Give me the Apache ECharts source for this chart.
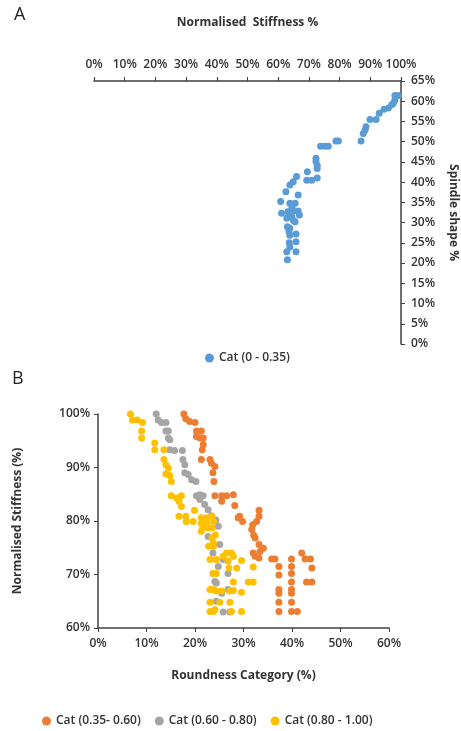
<!DOCTYPE html>
<html>
<head>
<meta charset="utf-8">
<title>Stiffness vs shape</title>
<script src="https://cdn.jsdelivr.net/npm/echarts@6/dist/echarts.min.js"></script>
<style>
  html, body { margin: 0; padding: 0; background: #fff; }
  #main { width: 461px; height: 731px; }
</style>
</head>
<body>
<div id="main"></div>
<script>
// panel A: normalised stiffness (%) vs spindle shape (%)
var stiffA = [99.1, 98.0, 97.5, 98.0, 97.0, 95.9, 94.5, 92.9, 91.9, 89.9, 88.6, 88.3, 87.7, 87.0,
  79.6, 78.8, 76.3, 75.2, 73.8, 72.3, 72.3, 72.7, 72.7, 69.5, 69.3, 70.9, 72.7, 66.0, 64.9, 63.8,
  62.5, 66.5, 60.8, 63.8, 65.5, 61.1, 63.2, 64.9, 66.5, 66.9, 64.4, 62.8, 65.5, 63.0, 63.8, 63.8,
  65.8, 63.6, 65.8, 62.8, 65.8, 63.0, 63.8, 64.5, 65.0, 63.5];
var spindleA = [61.4, 61.4, 59.5, 60.3, 59.1, 58.3, 58.0, 57.0, 55.5, 55.5, 53.7, 52.9, 52.0, 50.2,
  50.2, 50.2, 48.9, 48.9, 48.9, 45.9, 45.1, 43.4, 44.2, 42.6, 40.5, 40.5, 41.0, 41.4, 40.1, 39.3,
  37.6, 36.8, 35.2, 34.8, 34.8, 32.3, 32.7, 32.9, 32.9, 31.9, 31.5, 31.1, 30.2, 29.0, 28.6, 26.9,
  27.2, 25.0, 25.3, 22.8, 22.8, 20.8, 24.0, 33.8, 30.5, 27.8];

// panel B: roundness category (%) vs normalised stiffness (%)
var roundOrange = [17.7, 18.1, 18.9, 20.0, 20.3, 21.3, 20.3, 21.0, 21.7, 21.7, 21.5, 21.3, 23.1, 23.4,
  24.1, 23.7, 23.9, 24.1, 25.5, 26.5, 27.9, 25.5, 28.2, 29.2, 29.8, 28.9, 33.2, 33.2, 32.7, 31.9,
  31.7, 32.1, 32.4, 33.2, 34.1, 33.4, 32.0, 32.4, 33.2, 35.8, 36.5, 37.3, 37.3, 37.3, 37.3, 37.3,
  37.3, 39.9, 39.9, 39.9, 39.9, 39.9, 39.9, 39.9, 39.9, 41.1, 42.0, 42.7, 43.8, 44.1, 43.0, 44.1];
var stiffOrange = [100, 99.1, 98.6, 98.4, 96.8, 96.8, 95.8, 95.5, 95.5, 94.3, 93.3, 91.5, 91.5, 90.8,
  90.2, 89.0, 87.4, 84.7, 84.7, 84.7, 84.9, 83.7, 82.9, 80.9, 79.9, 80.6, 82.0, 80.9, 79.9, 79.3,
  78.4, 77.4, 76.8, 75.6, 74.9, 74.3, 74.0, 73.4, 73.1, 72.9, 72.9, 71.5, 69.9, 67.2, 66.5, 64.8,
  63.1, 72.9, 71.5, 70.2, 68.6, 67.2, 66.5, 64.8, 63.1, 63.1, 74.0, 72.9, 72.9, 71.2, 68.6, 68.6];

var roundGrey = [12.0, 12.4, 13.1, 14.0, 14.0, 14.5, 14.5, 14.8, 14.8, 15.8, 17.4, 17.5, 17.9, 17.9,
  18.6, 19.3, 20.2, 20.3, 21.0, 21.7, 21.0, 22.0, 22.7, 23.4, 24.3, 24.8, 22.7, 25.1, 23.7, 25.8,
  24.8, 26.8, 24.1, 24.4, 26.8, 25.5, 24.4, 25.8, 27.2];
var stiffGrey = [100, 98.9, 98.4, 98.4, 96.8, 96.8, 95.5, 95.2, 93.3, 93.2, 93.2, 91.5, 90.5, 89.0,
  88.7, 87.7, 87.4, 84.7, 84.9, 84.7, 84.0, 83.1, 82.1, 81.0, 80.2, 79.0, 77.1, 75.6, 74.0, 72.8,
  71.5, 70.2, 68.7, 68.4, 67.2, 66.5, 65.0, 63.0, 63.0];

var roundYellow = [6.7, 7.1, 8.1, 9.2, 9.0, 9.0, 11.7, 11.7, 13.6, 13.6, 14.0, 14.5, 14.0, 14.8,
  15.1, 15.1, 16.2, 17.2, 16.7, 17.2, 16.7, 18.1, 18.2, 19.6, 19.9, 21.3, 21.3, 21.6, 21.3, 22.4,
  22.4, 22.7, 23.5, 23.8, 23.5, 24.2, 23.5, 23.8, 22.8, 23.8, 23.1, 24.4, 25.8, 26.5, 27.5, 27.9,
  26.8, 29.6, 27.0, 28.6, 32.0, 23.7, 24.4, 27.9, 31.0, 32.0, 23.1, 23.8, 24.4, 25.5, 27.2, 27.9,
  29.6, 23.1, 25.1, 27.2, 23.1, 23.8, 24.1, 27.5, 29.6];
var stiffYellow = [100, 98.9, 98.9, 98.4, 96.8, 95.5, 94.6, 93.3, 93.3, 91.5, 90.5, 89.9, 88.8, 88.5,
  87.4, 84.7, 84.3, 84.7, 83.7, 82.7, 80.9, 80.9, 79.9, 79.9, 82.0, 80.6, 79.6, 79.0, 78.1, 80.6,
  79.6, 78.7, 80.9, 79.9, 78.7, 77.4, 76.8, 75.9, 75.3, 75.3, 72.8, 72.8, 73.4, 74.0, 74.0, 73.4,
  72.5, 72.6, 71.2, 71.2, 71.4, 70.2, 70.2, 68.6, 68.6, 68.6, 67.2, 67.2, 66.9, 66.9, 66.9, 67.0,
  66.7, 64.8, 64.8, 64.8, 63.1, 63.1, 63.4, 63.1, 63.1];

function pairs(xs, ys) {
    var out = [];
    for (var i = 0; i < xs.length; i++) out.push([xs[i], ys[i]]);
    return out;
}

var txt = '#333';
var axisCol = '#404040';
var fontF = '"Open Sans", "Liberation Sans", sans-serif';
var pct = function (v) { return v + '%'; };
// fresh objects for every axis
function line() { return { show: true, onZero: false, lineStyle: { color: axisCol, width: 1.5 } }; }
function tick() { return { show: true, length: 4, lineStyle: { color: axisCol, width: 1 } }; }
function lab(m) { return { color: txt, fontSize: 12, fontWeight: 600, margin: m, formatter: pct }; }
function nm() { return { color: txt, fontWeight: 'bold', fontSize: 12 }; }

var myChart = echarts.init(document.getElementById('main'));
var option = {
    animation: false,
    textStyle: { fontFamily: fontF },
    graphic: [
        { type: 'text', left: 14, top: 6, style: { text: 'A', fontSize: 18, fill: '#222', fontFamily: fontF } },
        { type: 'text', left: 12, top: 370, style: { text: 'B', fontSize: 18, fill: '#222', fontFamily: fontF } }
    ],
    grid: [
        { left: 94, right: 60, top: 81, bottom: 387, containLabel: false, outerBoundsMode: 'none' },
        { left: 98, right: 72, top: 414, bottom: 103, containLabel: false, outerBoundsMode: 'none' }
    ],
    xAxis: [
        {
            gridIndex: 0, type: 'value', position: 'top', min: 0, max: 100, interval: 10,
            name: 'Normalised  Stiffness %', nameLocation: 'middle', nameGap: 52, nameTextStyle: nm(),
            axisLine: line(), axisTick: tick(), axisLabel: lab(10), splitLine: { show: false }
        },
        {
            gridIndex: 1, type: 'value', position: 'bottom', min: 0, max: 60, interval: 10,
            name: 'Roundness Category (%)', nameLocation: 'middle', nameGap: 42, nameTextStyle: nm(),
            axisLine: line(), axisTick: tick(), axisLabel: lab(10), splitLine: { show: false }
        }
    ],
    yAxis: [
        {
            gridIndex: 0, type: 'value', position: 'right', min: 0, max: 65, interval: 5,
            name: 'Spindle shape %', nameLocation: 'middle', nameGap: 46, nameRotate: -90, nameTextStyle: nm(),
            axisLine: line(), axisTick: tick(), axisLabel: lab(10), splitLine: { show: false }
        },
        {
            gridIndex: 1, type: 'value', position: 'left', min: 60, max: 100, interval: 10,
            name: 'Normalised Stiffness (%)', nameLocation: 'middle', nameGap: 74, nameTextStyle: nm(),
            axisLine: line(), axisTick: tick(), axisLabel: lab(8), splitLine: { show: false }
        }
    ],
    legend: [
        {
            data: ['Cat (0 - 0.35)'], left: 200, top: 347, icon: 'circle', itemWidth: 9, itemHeight: 9,
            textStyle: { color: txt, fontSize: 12, fontWeight: 600 }
        },
        {
            data: ['Cat (0.35- 0.60)', 'Cat (0.60 - 0.80)', 'Cat (0.80 - 1.00)'],
            left: 37, top: 710, icon: 'circle', itemWidth: 9, itemHeight: 9, itemGap: 14,
            textStyle: { color: txt, fontSize: 12, fontWeight: 600 }
        }
    ],
    series: [
        {
            name: 'Cat (0 - 0.35)', type: 'scatter', xAxisIndex: 0, yAxisIndex: 0,
            symbolSize: 7, itemStyle: { color: '#5B9BD5', opacity: 1 },
            data: pairs(stiffA, spindleA)
        },
        {
            name: 'Cat (0.35- 0.60)', type: 'scatter', xAxisIndex: 1, yAxisIndex: 1,
            symbolSize: 7, itemStyle: { color: '#ED7D31', opacity: 1 },
            data: pairs(roundOrange, stiffOrange)
        },
        {
            name: 'Cat (0.60 - 0.80)', type: 'scatter', xAxisIndex: 1, yAxisIndex: 1,
            symbolSize: 7, itemStyle: { color: '#A5A5A5', opacity: 1 },
            data: pairs(roundGrey, stiffGrey)
        },
        {
            name: 'Cat (0.80 - 1.00)', type: 'scatter', xAxisIndex: 1, yAxisIndex: 1,
            symbolSize: 7, itemStyle: { color: '#FFC000', opacity: 1 },
            data: pairs(roundYellow, stiffYellow)
        }
    ]
};
myChart.setOption(option);
</script>
</body>
</html>
